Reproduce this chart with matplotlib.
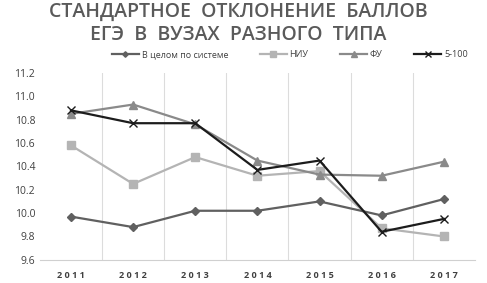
import matplotlib
matplotlib.use("Agg")
import matplotlib.pyplot as plt

years = ["2011", "2012", "2013", "2014", "2015", "2016", "2017"]
total = [9.97, 9.88, 10.02, 10.02, 10.10, 9.98, 10.12]
niu = [10.58, 10.25, 10.48, 10.32, 10.36, 9.87, 9.80]
fu = [10.85, 10.93, 10.76, 10.45, 10.33, 10.32, 10.44]
top = [10.88, 10.77, 10.77, 10.37, 10.45, 9.84, 9.95]
labels = ["В целом по системе", "НИУ", "ФУ", "5-100"]

plt.rcParams['font.family'] = ['Open Sans', 'DejaVu Sans']
fig = plt.figure(figsize=(4.87, 2.83), dpi=100)
ax = fig.add_axes([0.082, 0.082, 0.893, 0.66])

x = range(len(years))
ax.plot(x, total, color="#606060", lw=1.6, marker="D", ms=4, label=labels[0], zorder=4)
ax.plot(x, niu, color="#b4b4b4", lw=1.6, marker="s", ms=5.5, label=labels[1], zorder=3)
ax.plot(x, fu, color="#8a8a8a", lw=1.6, marker="^", ms=5.5, label=labels[2], zorder=3)
ax.plot(x, top, color="#1c1c1c", lw=1.6, marker="x", ms=6, mew=1.0, label=labels[3], zorder=5)

ax.set_xlim(-0.5, 6.5)
ax.set_ylim(9.6, 11.2)
ax.set_yticks([9.6 + 0.2 * i for i in range(9)])
ax.set_yticklabels([f"{9.6 + 0.2 * i:.1f}" for i in range(9)], fontsize=7.5, color="#404040")
ax.set_xticks(list(x))
ax.set_xticklabels([" ".join(y) for y in years], fontsize=6.5, fontweight="bold", color="#404040")
ax.set_xticks([i + 0.5 for i in range(6)], minor=True)
ax.grid(True, which="minor", axis="x", color="#dcdcdc", lw=0.8)
ax.tick_params(which="both", length=0)
ax.tick_params(axis="x", pad=8)
for s in ["top", "right", "left"]:
    ax.spines[s].set_visible(False)
ax.spines["bottom"].set_color("#d0d0d0")

fig.text(0.49, 0.958, "СТАНДАРТНОЕ  ОТКЛОНЕНИЕ  БАЛЛОВ", ha="center", va="center",
         fontsize=14, fontweight="semibold", color="#5a5a5a")
fig.text(0.49, 0.878, "ЕГЭ  В  ВУЗАХ  РАЗНОГО  ТИПА", ha="center", va="center",
         fontsize=14, fontweight="semibold", color="#5a5a5a")

fig.legend(loc="center", bbox_to_anchor=(0.595, 0.808), ncol=4, frameon=False,
           fontsize=6.5, handlelength=3.0, columnspacing=3.5, handletextpad=0.3,
           markerscale=0.7, labelcolor="#404040")

fig.savefig("out.png", dpi=100, facecolor="white")
